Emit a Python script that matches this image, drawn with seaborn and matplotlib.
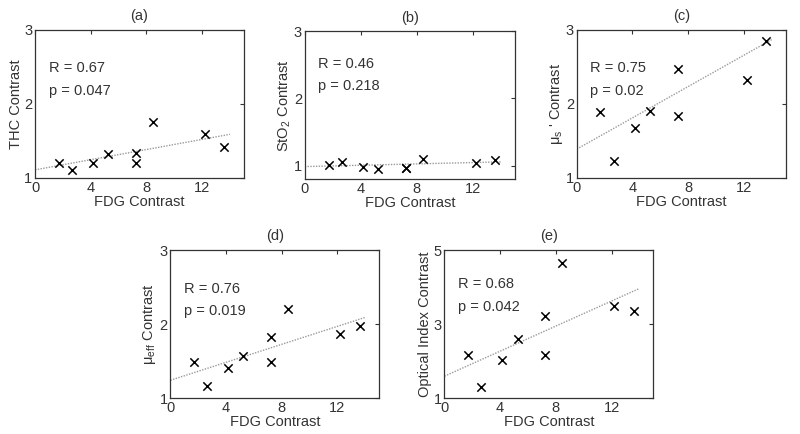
import numpy as np
import pandas as pd
import matplotlib
matplotlib.use("Agg")
import matplotlib.pyplot as plt
import seaborn as sns

# ---- data ----
fdg = [1.7, 2.65, 4.15, 5.25, 7.25, 7.25, 8.45, 12.2, 13.6]
thc = [1.20, 1.11, 1.20, 1.32, 1.34, 1.20, 1.75, 1.59, 1.42]
sto2 = [1.015, 1.05, 0.985, 0.95, 0.97, 0.96, 1.095, 1.045, 1.08]
mus = [1.89, 1.235, 1.68, 1.905, 2.47, 1.84, np.nan, 2.33, 2.85]
mueff = [1.49, 1.16, 1.40, 1.57, 1.82, 1.49, 2.20, 1.87, 1.98]
optidx = [2.16, 1.30, 2.04, 2.59, 3.23, 2.15, 4.66, 3.50, 3.36]

fit_x = [0, 14]
fit_thc = [1.11, 1.59]
fit_sto2 = [0.985, 1.055]
fit_mus = [1.39, 2.87]
fit_mueff = [1.24, 2.09]
fit_optidx = [1.59, 3.96]

titles = ["(a)", "(b)", "(c)", "(d)", "(e)"]
ylabels = ["THC Contrast", "StO$_\\mathregular{2}$ Contrast",
           "\u03bc$_\\mathregular{s}$ ' Contrast",
           "\u03bc$_\\mathregular{eff}$ Contrast", "Optical Index Contrast"]
r_text = ["R = 0.67", "R = 0.46", "R = 0.75", "R = 0.76", "R = 0.68"]
p_text = ["p = 0.047", "p = 0.218", "p = 0.02", "p = 0.019", "p = 0.042"]
xticks = [0, 4, 8, 12]
yticks_list = [[1, 2, 3], [1, 2, 3], [1, 2, 3], [1, 2, 3], [1, 3, 5]]
ylims = [(1, 3), (0.8, 3), (1, 3), (1, 3), (1, 5)]

# ---- styling ----
sns.set_style("white")
plt.rcParams["font.family"] = ["Liberation Sans", "DejaVu Sans"]
plt.rcParams["mathtext.fontset"] = "custom"
plt.rcParams["mathtext.rm"] = "Liberation Sans"
txt_color = "#333333"

fig = plt.figure(figsize=(8, 4.34), dpi=100)
positions = [
    [0.0438, 0.5899, 0.261, 0.341],
    [0.381, 0.5876, 0.2625, 0.340],
    [0.721, 0.5899, 0.261, 0.341],
    [0.213, 0.0829, 0.261, 0.341],
    [0.5556, 0.0829, 0.261, 0.341],
]
ys = [thc, sto2, mus, mueff, optidx]
fits = [fit_thc, fit_sto2, fit_mus, fit_mueff, fit_optidx]
text_y = [(0.743, 0.59), (0.776, 0.633), (0.74, 0.59), (0.74, 0.59), (0.77, 0.617)]

for i in range(5):
    ax = fig.add_axes(positions[i])
    df = pd.DataFrame({"x": fdg, "y": ys[i]})
    fdf = pd.DataFrame({"x": fit_x, "y": fits[i]})
    sns.lineplot(data=fdf, x="x", y="y", ax=ax, color="#9a9a9a",
                 linestyle=(0, (1, 1)), linewidth=1.0)
    sns.scatterplot(data=df, x="x", y="y", ax=ax, marker="x", color="black",
                    s=36, linewidth=1.1, zorder=3)
    ax.set_xlim(0, 15)
    ax.set_ylim(*ylims[i])
    ax.set_xticks(xticks)
    ax.set_yticks(yticks_list[i])
    ax.tick_params(direction="in", length=3, width=0.8, top=True, right=True,
                   labelsize=10.5, colors=txt_color, pad=2)
    for sp in ax.spines.values():
        sp.set_color("#333333")
        sp.set_linewidth(0.9)
    ax.set_xlabel("FDG Contrast", fontsize=10.5, color=txt_color, labelpad=0)
    ax.set_ylabel(ylabels[i], fontsize=10.5, color=txt_color, labelpad=1)
    ax.set_title(titles[i], fontsize=10.5, color=txt_color, pad=7)
    ax.text(0.065, text_y[i][0], r_text[i], transform=ax.transAxes,
            fontsize=10.5, color=txt_color, va="center", ha="left")
    ax.text(0.065, text_y[i][1], p_text[i], transform=ax.transAxes,
            fontsize=10.5, color=txt_color, va="center", ha="left")

fig.savefig("out.png", dpi=100)
